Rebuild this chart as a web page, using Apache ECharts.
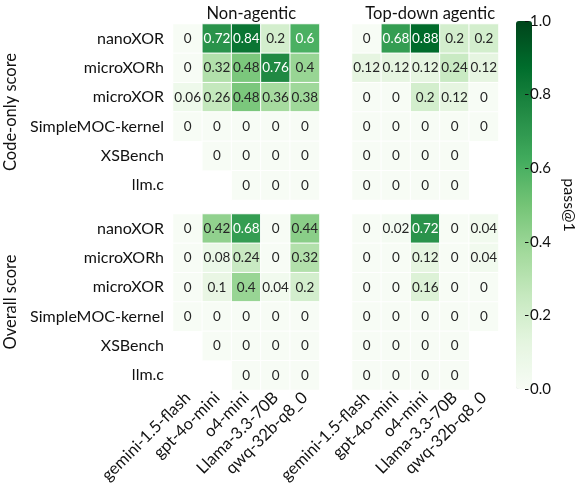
<!DOCTYPE html>
<html>
<head>
<meta charset="utf-8">
<script src="https://cdn.jsdelivr.net/npm/echarts@6/dist/echarts.min.js"></script>
<style>html,body{margin:0;padding:0;background:#fff}#c{width:578px;height:490px}</style>
</head>
<body>
<div id="c"></div>
<script>
var models = ['gemini-1.5-flash', 'gpt-4o-mini', 'o4-mini', 'Llama-3.3-70B', 'qwq-32b-q8_0'];
var tasks = ['nanoXOR', 'microXORh', 'microXOR', 'SimpleMOC-kernel', 'XSBench', 'llm.c'];
var panelTitles = ['Non-agentic', 'Top-down agentic'];
var rowTitles = ['Code-only score', 'Overall score'];
var N = null;
// rows follow tasks order, columns follow models order; null = no cell
var codeNonAgentic = [
  [0, 0.72, 0.84, 0.2, 0.6],
  [0, 0.32, 0.48, 0.76, 0.4],
  [0.06, 0.26, 0.48, 0.36, 0.38],
  [0, 0, 0, 0, 0],
  [N, 0, 0, 0, 0],
  [N, N, 0, 0, 0]
];
var codeTopDown = [
  [0, 0.68, 0.88, 0.2, 0.2],
  [0.12, 0.12, 0.12, 0.24, 0.12],
  [0, 0, 0.2, 0.12, 0],
  [0, 0, 0, 0, 0],
  [0, 0, 0, 0, N],
  [0, 0, 0, 0, N]
];
var overallNonAgentic = [
  [0, 0.42, 0.68, 0, 0.44],
  [0, 0.08, 0.24, 0, 0.32],
  [0, 0.1, 0.4, 0.04, 0.2],
  [0, 0, 0, 0, 0],
  [N, 0, 0, 0, 0],
  [N, N, 0, 0, 0]
];
var overallTopDown = [
  [0, 0.02, 0.72, 0, 0.04],
  [0, 0, 0.12, 0, 0.04],
  [0, 0, 0.16, 0, 0],
  [0, 0, 0, 0, 0],
  [0, 0, 0, 0, N],
  [0, 0, 0, 0, N]
];

var FONT = 'Lato, "Open Sans", sans-serif';
var greens = ['#f7fcf5', '#e5f5e0', '#c7e9c0', '#a1d99b', '#74c476', '#41ab5d', '#238b45', '#006d2c', '#00441b'];
var panels = [codeNonAgentic, codeTopDown, overallNonAgentic, overallTopDown];
var gridPos = [
  {left: 173, top: 24}, {left: 352, top: 24},
  {left: 173, top: 214}, {left: 352, top: 214}
];
var CW = 146.5, CH = 176;

function toData(mat) {
  var out = [];
  for (var r = 0; r < mat.length; r++) {
    for (var c = 0; c < mat[r].length; c++) {
      var v = mat[r][c];
      if (v === null) continue;
      out.push({value: [c, r, v], label: {color: v > 0.55 ? '#ffffff' : '#262626'}});
    }
  }
  return out;
}

var grids = [], xAxes = [], yAxes = [], series = [];
panels.forEach(function (mat, i) {
  grids.push({left: gridPos[i].left, top: gridPos[i].top, width: CW, height: CH});
  var bottomRow = i >= 2, leftCol = (i % 2 === 0);
  xAxes.push({
    type: 'category', gridIndex: i, data: models, position: 'bottom',
    axisLine: {show: false}, axisTick: {show: false}, splitLine: {show: false},
    axisLabel: {show: bottomRow, rotate: 45, margin: 5, fontSize: 16.5, fontFamily: FONT, color: '#111', interval: 0}
  });
  yAxes.push({
    type: 'category', gridIndex: i, data: tasks, inverse: true,
    axisLine: {show: false}, axisTick: {show: false}, splitLine: {show: false},
    axisLabel: {show: leftCol, margin: 9, fontSize: 16, fontFamily: FONT, color: '#111', interval: 0},
    name: leftCol ? rowTitles[i >= 2 ? 1 : 0] : '',
    nameLocation: 'middle', nameRotate: 90, nameGap: 154,
    nameTextStyle: {fontSize: 16.5, fontFamily: FONT, color: '#111'}
  });
  series.push({
    type: 'heatmap', xAxisIndex: i, yAxisIndex: i, data: toData(mat),
    itemStyle: {borderColor: '#ffffff', borderWidth: 1},
    label: {show: true, fontSize: 13.5, fontFamily: FONT, formatter: function (p) { return String(p.value[2]); }},
    emphasis: {disabled: true}
  });
});

// colorbar axis grid
grids.push({left: 516, top: 21, width: 16, height: 368});
xAxes.push({type: 'value', gridIndex: 4, show: false, min: 0, max: 1});
yAxes.push({
  type: 'value', gridIndex: 4, min: 0, max: 1, interval: 0.2, position: 'right', z: 10,
  axisLine: {show: false, onZero: false}, splitLine: {show: false},
  axisTick: {show: true, inside: false, length: 3.5, lineStyle: {color: '#111', width: 1}},
  axisLabel: {margin: 5, fontSize: 15, fontFamily: FONT, color: '#111',
    formatter: function (v) { return v.toFixed(1); }},
  name: 'pass@1', nameLocation: 'middle', nameRotate: -90, nameGap: 36,
  nameTextStyle: {fontSize: 16, fontFamily: FONT, color: '#111'}
});

var chart = echarts.init(document.getElementById('c'), null, {renderer: 'canvas'});
chart.setOption({
  animation: false,
  backgroundColor: '#ffffff',
  title: [
    {text: panelTitles[0], left: 173 + CW / 2, top: 0, textAlign: 'center',
      textStyle: {fontSize: 16.5, fontWeight: 'normal', fontFamily: FONT, color: '#111'}},
    {text: panelTitles[1], left: 352 + CW / 2, top: 0, textAlign: 'center',
      textStyle: {fontSize: 16.5, fontWeight: 'normal', fontFamily: FONT, color: '#111'}}
  ],
  grid: grids, xAxis: xAxes, yAxis: yAxes,
  visualMap: {
    type: 'continuous', min: 0, max: 1, seriesIndex: [0, 1, 2, 3],
    inRange: {color: greens}, calculable: false, realtime: false,
    left: 516, top: 21, itemWidth: 16, itemHeight: 368, padding: 0,
    text: ['', ''], showLabel: false, hoverLink: false, z: 1
  },
  series: series
});
</script>
</body>
</html>
